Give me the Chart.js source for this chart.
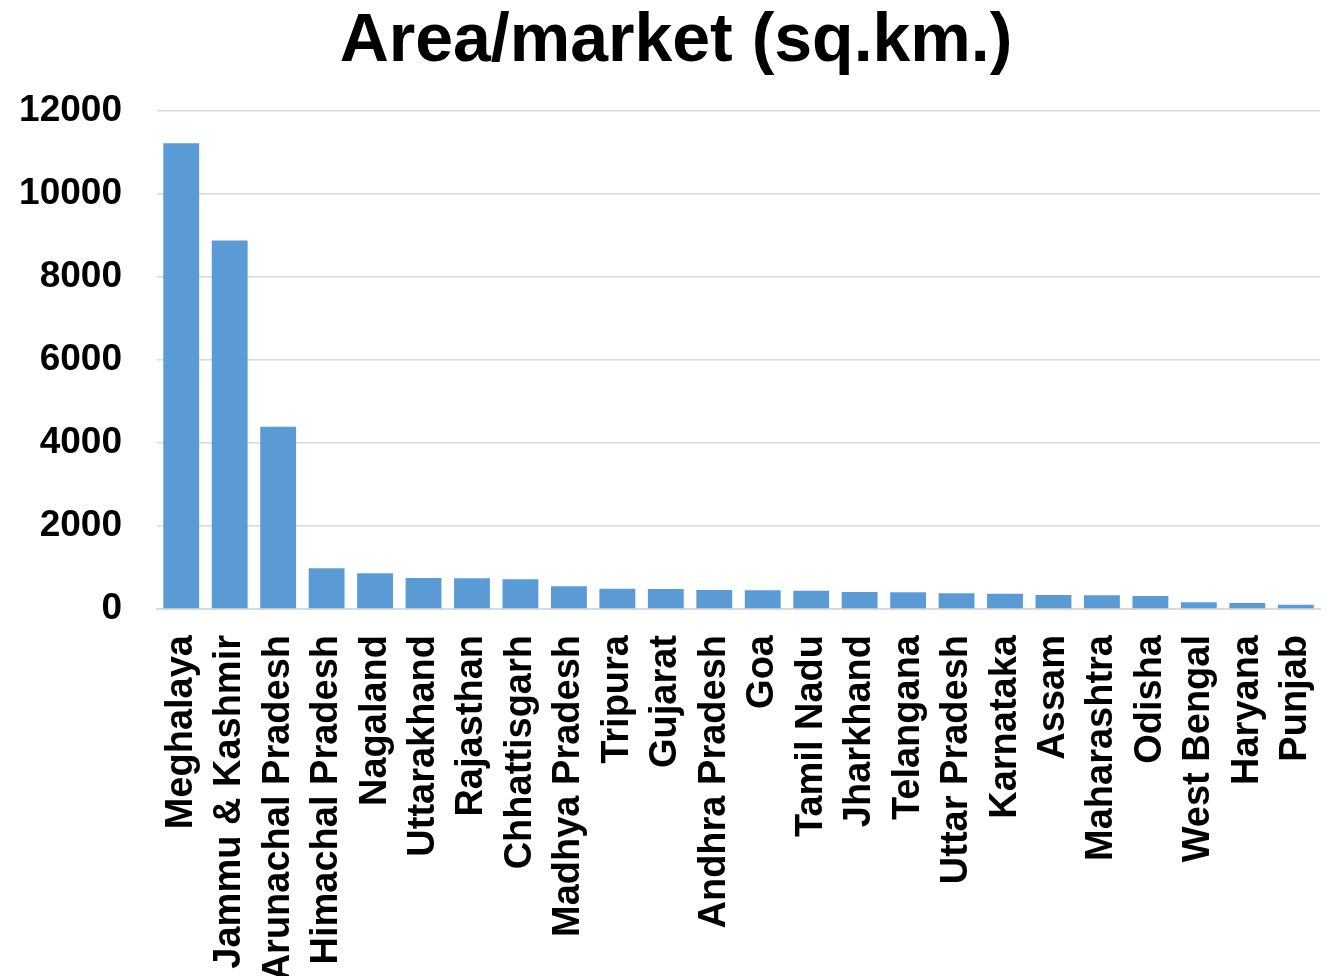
<!DOCTYPE html>
<html>
<head>
<meta charset="utf-8">
<script src="https://cdn.jsdelivr.net/npm/chart.js@4"></script>
<style>
  html, body { margin: 0; padding: 0; background: #fff; overflow: hidden; }
  #wrap { width: 1340px; height: 976px; position: relative; }
</style>
</head>
<body>
<div id="wrap"><canvas id="area_chart"></canvas></div>
<script>
// données
var states = ['Meghalaya', 'Jammu & Kashmir', 'Arunachal Pradesh', 'Himachal Pradesh', 'Nagaland',
    'Uttarakhand', 'Rajasthan', 'Chhattisgarh', 'Madhya Pradesh', 'Tripura', 'Gujarat',
    'Andhra Pradesh', 'Goa', 'Tamil Nadu', 'Jharkhand', 'Telangana', 'Uttar Pradesh',
    'Karnataka', 'Assam', 'Maharashtra', 'Odisha', 'West Bengal', 'Haryana', 'Punjab'];
var areaPerMarket = [11220, 8880, 4390, 980, 859, 747, 739, 715, 546, 490, 482,
    458, 450, 442, 410, 402, 378, 369, 337, 329, 313, 161, 145, 104];
var yTicks = [0, 2000, 4000, 6000, 8000, 10000, 12000];

var fontFamily = '"Liberation Sans", Arial, sans-serif';

document.addEventListener('DOMContentLoaded', function () {
    var ctx = document.getElementById('area_chart').getContext('2d');
    new Chart(ctx, {
        type: 'bar',
        data: {
            labels: states,
            datasets: [{
                label: 'Area/market (sq.km.)',
                data: areaPerMarket,
                backgroundColor: '#5B9BD5',
                borderWidth: 0,
                barPercentage: 0.74,
                categoryPercentage: 1.0
            }]
        },
        options: {
            responsive: true,
            maintainAspectRatio: false,
            animation: false,
            layout: { padding: { top: 0, right: 0, bottom: 0, left: 12 } },
            plugins: {
                legend: { display: false },
                tooltip: { enabled: false },
                title: {
                    display: true,
                    text: 'Area/market (sq.km.)',
                    color: '#000',
                    font: { family: fontFamily, size: 68, weight: 'bold', lineHeight: 1.0 },
                    padding: { top: 8, bottom: 35 }
                }
            },
            scales: {
                x: {
                    grid: { display: false, drawTicks: false },
                    border: { display: true, color: '#D9D9D9', width: 2 },
                    ticks: {
                        color: '#000',
                        font: { family: fontFamily, size: 38, weight: 'bold' },
                        minRotation: 90,
                        maxRotation: 90,
                        autoSkip: false,
                        padding: 26
                    },
                    afterFit: function (scale) {
                        scale.height = 367;
                        scale.paddingLeft = 0;
                        scale.paddingRight = 20;
                    }
                },
                y: {
                    min: 0,
                    max: 12000,
                    grid: { color: '#D9D9D9', lineWidth: 1.5, drawTicks: false },
                    border: { display: false },
                    afterBuildTicks: function (scale) {
                        scale.ticks = yTicks.map(function (v) { return { value: v }; });
                    },
                    ticks: {
                        color: '#000',
                        font: { family: fontFamily, size: 37, weight: 'bold' },
                        padding: 35,
                        callback: function (value) { return String(value); }
                    },
                    afterFit: function (scale) { scale.width = 145; }
                }
            }
        }
    });
});
</script>
</body>
</html>
